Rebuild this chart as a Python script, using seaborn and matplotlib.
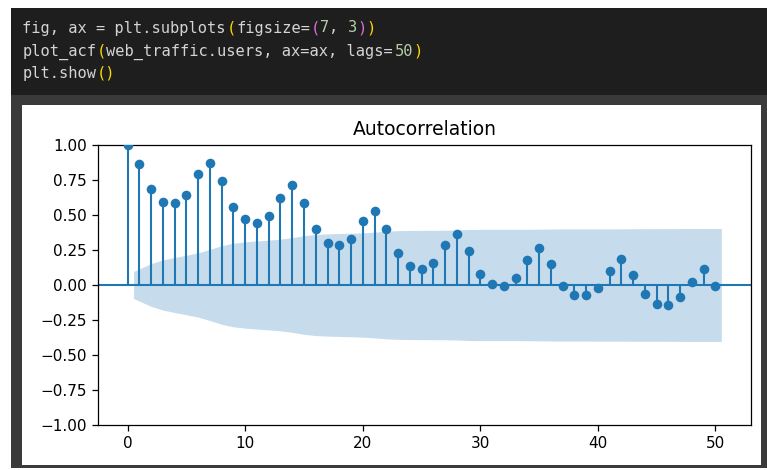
import numpy as np
import pandas as pd
import matplotlib
matplotlib.use("Agg")
import matplotlib.pyplot as plt
from matplotlib.patches import Rectangle
import seaborn as sns

# ---------------- data ----------------
lags = list(range(0, 51))
acf_values = [
    1.00, 0.864, 0.683, 0.595, 0.583, 0.643, 0.790, 0.874, 0.745, 0.555,
    0.469, 0.440, 0.493, 0.624, 0.712, 0.583, 0.398, 0.302, 0.286, 0.329,
    0.460, 0.529, 0.398, 0.226, 0.138, 0.117, 0.160, 0.286, 0.362, 0.240,
    0.076, 0.006, -0.005, 0.050, 0.180, 0.263, 0.152, -0.005, -0.070, -0.074,
    -0.024, 0.098, 0.184, 0.074, -0.064, -0.136, -0.143, -0.088, 0.025, 0.114,
    -0.005,
]
nobs = 410  # series length implied by the band width in the reference
x_ticks = [0, 10, 20, 30, 40, 50]
y_ticks = [-1.00, -0.75, -0.50, -0.25, 0.00, 0.25, 0.50, 0.75, 1.00]
title = "Autocorrelation"

code_lines = [
    [("fig, ax = plt.subplots", "txt"), ("(", "y"), ("figsize=", "txt"), ("(", "m"),
     ("7", "num"), (", ", "txt"), ("3", "num"), (")", "m"), (")", "y")],
    [("plot_acf", "txt"), ("(", "y"), ("web_traffic.users, ax=ax, lags=", "txt"),
     ("50", "num"), (")", "y")],
    [("plt.show", "txt"), ("()", "y")],
]
code_colors = {"txt": "#d4d4d4", "y": "#ffd700", "m": "#da70d6", "num": "#b5cea8"}

# Bartlett confidence band (what plot_acf draws), lags 1..50
acf_arr = np.array(acf_values)
varacf = np.ones(len(acf_arr)) / nobs
varacf[0] = 0
varacf[1] = 1.0 / nobs
varacf[2:] *= 1 + 2 * np.cumsum(acf_arr[1:-1] ** 2)
band = 1.96 * np.sqrt(varacf)
band_lags = np.array(lags[1:], dtype=float)
band_lags[0] -= 0.5
band_lags[-1] += 0.5
band_vals = band[1:]

df = pd.DataFrame({"lag": lags, "acf": acf_values})

# ---------------- figure ----------------
W, H = 767, 470
fig = plt.figure(figsize=(W / 100, H / 100), dpi=100)
fig.patch.set_facecolor("white")


def rect_px(x0, y0, x1, y1, color, z=-10):
    fig.add_artist(Rectangle((x0 / W, 1 - y1 / H), (x1 - x0) / W, (y1 - y0) / H,
                             transform=fig.transFigure, facecolor=color,
                             edgecolor="none", zorder=z))


rect_px(11, 8, 767, 468, "#1e1e1e", -12)
rect_px(11, 95, 767, 468, "#3a3a3a", -11)
rect_px(22, 105, 761, 465, "#ffffff", -10)

# code text
cw = 9.3
x0 = 22.5
baselines = [32.5, 55.5, 78]
for line, yb in zip(code_lines, baselines):
    col = 0
    for seg, kind in line:
        fig.text((x0 + col * cw) / W, 1 - yb / H, seg, fontfamily="DejaVu Sans Mono",
                 fontsize=11.1, color=code_colors[kind], va="baseline", ha="left")
        col += len(seg)

# axes
ax = fig.add_axes([98 / W, 1 - 425 / H, (751 - 98) / W, (425 - 145) / H])
ax.set_facecolor("white")
c0 = "#1f77b4"

ax.fill_between(band_lags, -band_vals, band_vals, color=c0, alpha=0.25,
                linewidth=0, zorder=1)
ax.axhline(0, color=c0, linewidth=1.5, zorder=2)
ax.vlines(df["lag"], 0, df["acf"], color=c0, linewidth=1.5, zorder=3)
sns.scatterplot(data=df, x="lag", y="acf", ax=ax, color=c0, s=48, linewidth=0,
                zorder=4, legend=False)

ax.set_xlim(-2.525, 53.025)
ax.set_ylim(-1, 1)
ax.set_xticks(x_ticks)
ax.set_yticks(y_ticks)
ax.set_xlabel("")
ax.set_ylabel("")
ax.set_title(title, fontsize=13.5, pad=7, color="black")
ax.tick_params(axis="both", labelsize=11, length=4.5, width=0.9, colors="black",
               direction="out")
for sp in ax.spines.values():
    sp.set_visible(True)
    sp.set_color("black")
    sp.set_linewidth(0.9)

fig.savefig("out.png", dpi=100, facecolor=fig.get_facecolor())
